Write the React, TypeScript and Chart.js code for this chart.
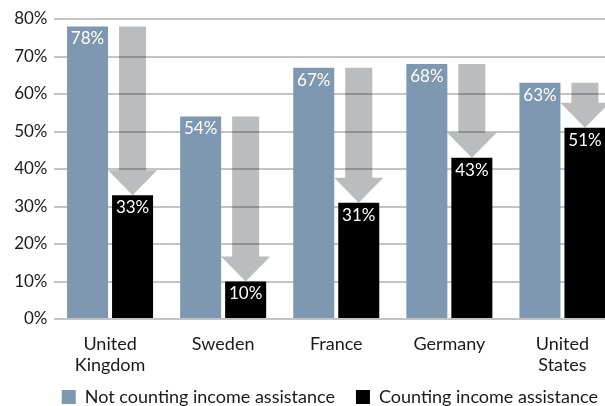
import React, { useEffect, useRef } from 'react';
import { Chart, registerables } from 'chart.js';

Chart.register(...registerables);

const categories: (string | string[])[] = [['United', 'Kingdom'], 'Sweden', 'France', 'Germany', ['United', 'States']];
const notCounting = [78, 54, 67, 68, 63];
const counting = [33, 10, 31, 43, 51];
const seriesNames = ['Not counting income assistance', 'Counting income assistance'];
const seriesColors = ['#7f98b2', '#000000'];
const yMin = 0;
const yMax = 80;
const yStep = 10;

const FONT = 'Lato';

const arrowPlugin = {
  id: 'dropArrows',
  beforeDatasetsDraw(chart: any) {
    const ctx = chart.ctx;
    const yScale = chart.scales.y;
    const meta = chart.getDatasetMeta(1);
    ctx.save();
    ctx.globalCompositeOperation = 'multiply';
    ctx.fillStyle = '#bbbcbe';
    meta.data.forEach((bar: any, i: number) => {
      const x = bar.x;
      const w = bar.width;
      const top = yScale.getPixelForValue(notCounting[i]);
      const tip = yScale.getPixelForValue(counting[i]);
      const headH = 25;
      const sh = w * 0.33;
      const hh = w * 0.6;
      const neck = tip - headH;
      ctx.beginPath();
      ctx.moveTo(x - sh, top);
      ctx.lineTo(x + sh, top);
      ctx.lineTo(x + sh, neck);
      ctx.lineTo(x + hh, neck);
      ctx.lineTo(x, tip);
      ctx.lineTo(x - hh, neck);
      ctx.lineTo(x - sh, neck);
      ctx.closePath();
      ctx.fill();
    });
    ctx.restore();
  },
};

const valueLabelPlugin = {
  id: 'valueLabels',
  afterDatasetsDraw(chart: any) {
    const ctx = chart.ctx;
    ctx.save();
    ctx.fillStyle = '#ffffff';
    ctx.font = `17px ${FONT}`;
    ctx.textAlign = 'center';
    ctx.textBaseline = 'top';
    chart.data.datasets.forEach((ds: any, di: number) => {
      const meta = chart.getDatasetMeta(di);
      meta.data.forEach((bar: any, i: number) => {
        ctx.fillText(`${ds.data[i]}%`, bar.x, bar.y + 4);
      });
    });
    ctx.restore();
  },
};

// let the two-line category labels extend below the axis box without being clipped
const labelRoomPlugin = {
  id: 'labelRoom',
  afterLayout(chart: any) {
    const xs = chart.scales.x;
    xs.bottom = chart.height;
    xs.height = xs.bottom - xs.top;
  },
};

export default function App() {
  const ref = useRef<HTMLCanvasElement | null>(null);

  useEffect(() => {
    if (!ref.current) return;
    const chart = new Chart(ref.current, {
      type: 'bar',
      data: {
        labels: categories,
        datasets: [
          {
            label: seriesNames[0],
            data: notCounting,
            backgroundColor: seriesColors[0],
            categoryPercentage: 0.796,
            barPercentage: 0.911,
          },
          {
            label: seriesNames[1],
            data: counting,
            backgroundColor: seriesColors[1],
            categoryPercentage: 0.796,
            barPercentage: 0.911,
          },
        ],
      },
      options: {
        responsive: false,
        animation: false,
        devicePixelRatio: 1,
        layout: { padding: { top: 19, left: 0, right: 0, bottom: 0 } },
        plugins: {
          legend: {
            position: 'bottom',
            align: 'end',
            labels: {
              boxWidth: 14,
              boxHeight: 14,
              padding: 21,
              color: '#1a1a1a',
              font: { family: FONT, size: 18 },
            },
          },
          tooltip: { enabled: false },
        },
        scales: {
          x: {
            grid: { display: false, drawTicks: false },
            border: { display: false },
            ticks: {
              color: '#1a1a1a',
              padding: 14.5,
              font: { family: FONT, size: 18, lineHeight: 1.17 },
              maxRotation: 0,
              autoSkip: false,
            },
            afterFit: (s: any) => {
              s.height = 48;
            },
          },
          y: {
            min: yMin,
            max: yMax,
            grid: { color: '#c4c4c4', lineWidth: 2, drawTicks: false },
            border: { display: false },
            ticks: {
              stepSize: yStep,
              padding: 6,
              color: '#1a1a1a',
              font: { family: FONT, size: 17 },
              callback: (v: any) => `${v}%`,
            },
            afterFit: (s: any) => {
              s.width = 53.5;
            },
          },
        },
      },
      plugins: [arrowPlugin, valueLabelPlugin, labelRoomPlugin],
    });
    return () => chart.destroy();
  }, []);

  return (
    <div style={{ position: 'absolute', left: 0, top: 0, width: 605, height: 406, overflow: 'hidden', background: '#fff' }}>
      <canvas ref={ref} width={619} height={416} style={{ display: 'block' }} />
    </div>
  );
}
